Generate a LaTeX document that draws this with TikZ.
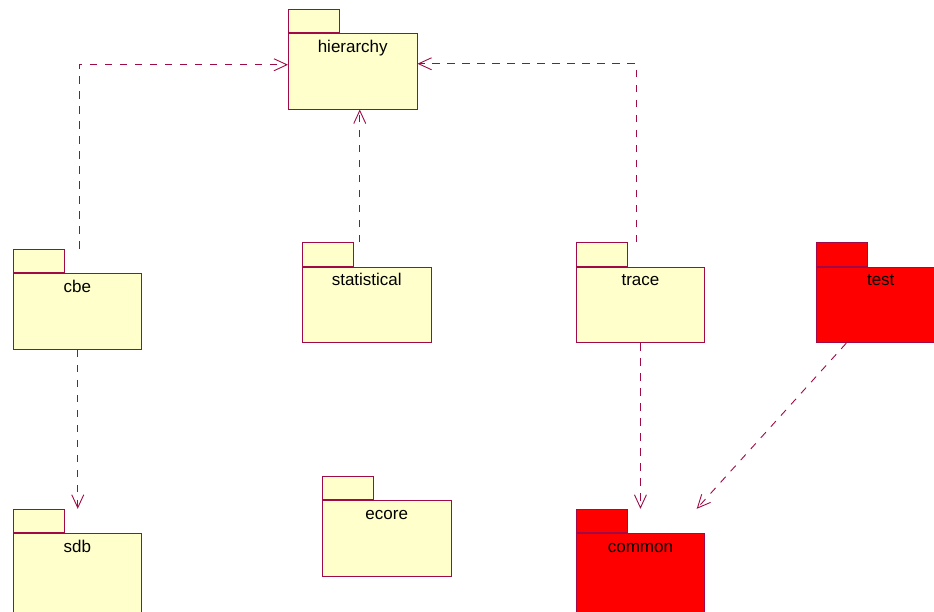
\documentclass[tikz,border=0pt]{standalone}
\usepackage{fontspec}
\setmainfont{Liberation Sans}
\usetikzlibrary{arrows.meta}
\definecolor{umlline}{RGB}{160,10,70}
\definecolor{pkgyellow}{RGB}{255,255,204}
\definecolor{pkgred}{RGB}{255,0,0}
% a UML package: tab, body and name
% [#1] extra body options, #2 node name, #3 x, #4 y of body top, #5 fill, #6 label
\newcommand\umlpackage[6][]{%
  \node[pkgtab, fill=#5] (#2-tab) at (#3,#4) {};
  \node[pkgbody, fill=#5, #1] (#2) at (#3,#4) {};
  \node[pkgname] (#2-label) at ([yshift=-19pt]#2.north) {#6};
}
\begin{document}
\begin{tikzpicture}[x=1pt,y=-1pt,
  pkgbody/.style={draw=umlline, line width=1pt, minimum width=128.5pt,
    minimum height=75.5pt, inner sep=0pt, anchor=north west},
  pkgtab/.style={draw=umlline, line width=1pt, minimum width=51pt,
    minimum height=23.5pt, inner sep=0pt, anchor=south west},
  pkgname/.style={anchor=base, font=\fontsize{17}{19}\selectfont, inner sep=0pt},
  tall/.style={minimum height=90pt},
  dep/.style={draw=umlline, line width=0.9pt, dash pattern=on 7.5pt off 7.5pt,
    -{Straight Barb[length=13pt,width=12pt]}},
]
\useasboundingbox (0,0) rectangle (934,611);
\clip (0,0) rectangle (934,611);

\umlpackage{hierarchy}{288}{33}{pkgyellow}{hierarchy}
\umlpackage{cbe}{12.7}{273.3}{pkgyellow}{cbe}
\umlpackage{statistical}{302}{266.5}{pkgyellow}{statistical}
\umlpackage{trace}{575.7}{266.7}{pkgyellow}{trace}
\umlpackage{test}{816}{266.7}{pkgred}{test}
\umlpackage[tall]{sdb}{12.7}{533.3}{pkgyellow}{sdb}
\umlpackage{ecore}{322}{500.3}{pkgyellow}{ecore}
\umlpackage[tall]{common}{575.7}{533.3}{pkgred}{common}

% dependencies
\draw[dep] ([xshift=1.5pt]cbe.north |- cbe-tab.north) |- ([yshift=6.5pt]hierarchy.west);
\draw[dep] ([xshift=-7pt]statistical.north |- statistical-tab.north)
  -- ([xshift=-7pt]statistical.north |- hierarchy.south);
\draw[dep] ([xshift=-4pt]trace.north |- trace-tab.north) |- ([yshift=7.5pt]hierarchy.east);
\draw[dep] ([xshift=0.3pt]cbe.south) -- ([xshift=0.3pt]cbe.south |- sdb-tab.north);
\draw[dep] (trace.south) -- (trace.south |- common-tab.north);
\draw[dep] ([xshift=-34.5pt]test.south) -- ([xshift=-8.5pt]common.north east |- common-tab.north);
\end{tikzpicture}
\end{document}
